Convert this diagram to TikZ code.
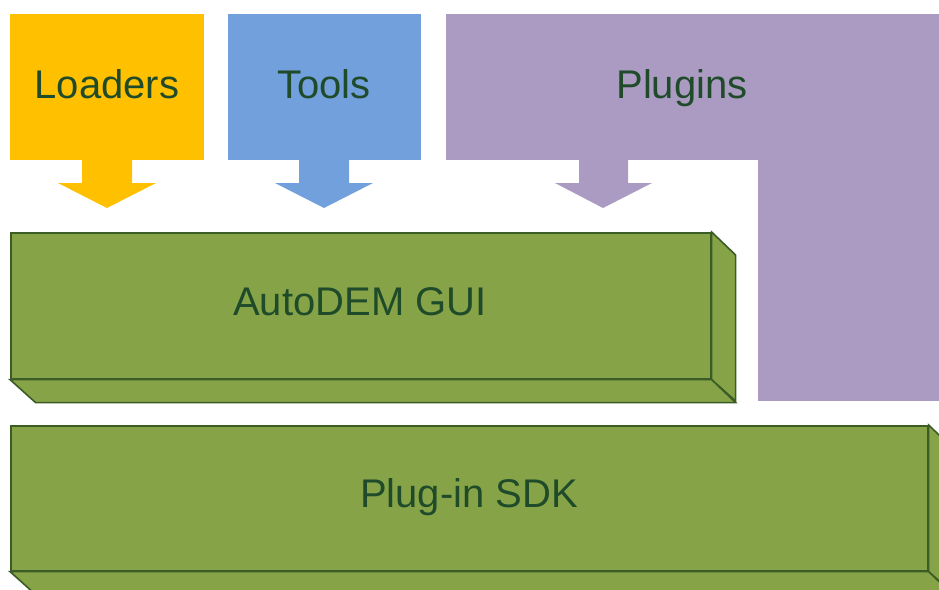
\documentclass[tikz,border=0pt]{standalone}
\usepackage{fontspec}
\setmainfont{Liberation Sans}
\begin{document}
\begin{tikzpicture}[x=1pt,y=-1pt,
  lbl/.style={text=textgreen,font=\fontsize{40}{46}\selectfont,inner sep=0pt,outer sep=0pt,anchor=base},
  topbox/.style={anchor=north west,inner sep=0pt,outer sep=0pt,draw=none},
  face/.style={fill=boxgreen,draw=edgegreen,line width=1.6pt,line join=miter},
  blockarrow/.style={draw=none}]
\definecolor{cyellow}{HTML}{FFC000}
\definecolor{cblue}{HTML}{72A0DC}
\definecolor{cpurple}{HTML}{AB9BC2}
\definecolor{boxgreen}{HTML}{86A447}
\definecolor{edgegreen}{HTML}{3B5C25}
\definecolor{textgreen}{HTML}{1F4B2A}
\useasboundingbox (0,0) rectangle (939,589);
\clip (0,0) rectangle (939,589);
\fill[white] (0,0) rectangle (939,589);
% top boxes
\node[topbox,fill=cyellow,minimum width=194pt,minimum height=146pt] (loaders) at (10,14) {};
\node[topbox,fill=cblue,minimum width=193pt,minimum height=146pt] (tools) at (228,14) {};
\node[topbox,fill=cpurple,minimum width=510pt,minimum height=146pt] (plugtop) at (446,14) {};
\node[topbox,fill=cpurple,minimum width=200pt,minimum height=241pt] (plugside) at (758,160) {};
\node[lbl] at (107,98) {Loaders};
\node[lbl] at (324,98) {Tools};
\node[lbl] at (682,98) {Plugins};
% block arrows
\fill[cyellow] (82,159) -- (82,183) -- (58,183) -- (107,208) -- (156,183) -- (132,183) -- (132,159) -- cycle;
\fill[cblue] (299,159) -- (299,183) -- (275,183) -- (324,208) -- (373,183) -- (349,183) -- (349,159) -- cycle;
\coordinate (ptip) at (603,208);
\fill[cpurple] (579,159) -- (579,183) -- (555,183) -- (ptip) -- (652,183) -- (628,183) -- (628,159) -- cycle;
% AutoDEM GUI box
\node[face,anchor=north west,minimum width=700pt,minimum height=146pt,inner sep=0pt] (gui) at (10,232) {};
\draw[face] (gui.north east) -- ++(24,23) -- ++(0,146) -- (gui.south east) -- cycle;
\draw[face] (gui.south west) -- (gui.south east) -- ++(24,23) -- ++(-700,0) -- cycle;
\node[lbl] at (360,315) {AutoDEM GUI};
% Plug-in SDK box
\node[face,anchor=north west,minimum width=917pt,minimum height=145pt,inner sep=0pt] (sdk) at (10,425) {};
\draw[face] (sdk.north east) -- ++(24,23) -- ++(0,145) -- (sdk.south east) -- cycle;
\draw[face] (sdk.south west) -- (sdk.south east) -- ++(24,23) -- ++(-917,0) -- cycle;
\node[lbl] at (469,507) {Plug-in SDK};
\end{tikzpicture}
\end{document}
